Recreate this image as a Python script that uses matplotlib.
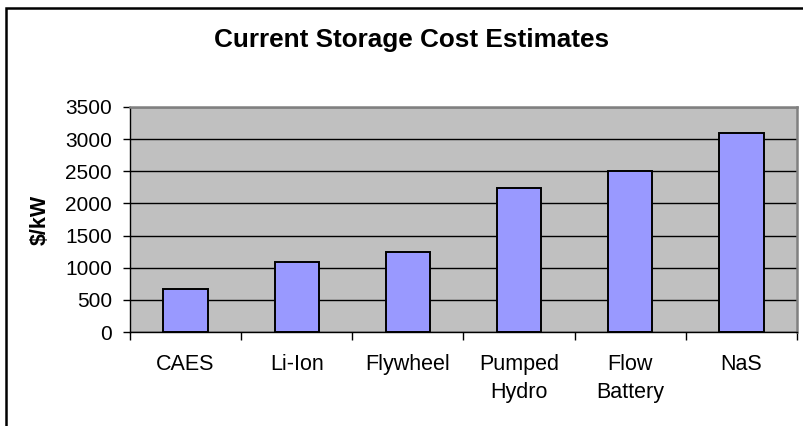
import numpy as np
import matplotlib
matplotlib.use("Agg")
import matplotlib.pyplot as plt
from matplotlib.patches import Rectangle

categories = ["CAES", "Li-Ion", "Flywheel", "Pumped\nHydro", "Flow\nBattery", "NaS"]
cost_per_kw = [675, 1090, 1250, 2240, 2500, 3100]
yticks = [0, 500, 1000, 1500, 2000, 2500, 3000, 3500]

W, H, DPI = 804, 426, 100
plt.rcParams['font.family'] = ['Liberation Sans', 'DejaVu Sans']

fig = plt.figure(figsize=(W / DPI, H / DPI), dpi=DPI)
fig.patch.set_facecolor("white")

# outer chart frame (right/bottom edges fall outside the picture)
fig.patches.append(Rectangle((6.5 / W, -0.05), 1.1, 1 - 7.5 / H + 0.05,
                             transform=fig.transFigure, fill=False,
                             edgecolor="black", linewidth=1.8))

left, right = 130 / W, 797 / W
bottom, top = 1 - 332 / H, 1 - 107 / H
ax = fig.add_axes([left, bottom, right - left, top - bottom])
ax.set_facecolor("#C0C0C0")

x = np.arange(len(categories))
ax.set_axisbelow(True)
ax.yaxis.grid(True, color="black", linewidth=1.0)
ax.bar(x, cost_per_kw, width=0.4, color="#9999FF", edgecolor="black",
       linewidth=1.4, zorder=3)

ax.set_xlim(-0.5, len(categories) - 0.5)
ax.set_ylim(0, 3500)
ax.set_yticks(yticks)
ax.set_yticklabels([str(v) for v in yticks], fontsize=15)

# category boundaries carry the ticks, labels sit in the middle
ax.set_xticks(np.arange(len(categories) + 1) - 0.5)
ax.set_xticklabels([])
ax.set_xticks(x, minor=True)
ax.set_xticklabels(categories, minor=True, fontsize=15.5, linespacing=1.45,
                   va="top")
ax.tick_params(axis="x", which="minor", length=0, pad=16)
ax.tick_params(axis="x", which="major", length=6, width=1.0, direction="out")
ax.tick_params(axis="y", length=5, width=1.0, direction="out", pad=8)

for side in ("left", "bottom"):
    ax.spines[side].set_color("black")
    ax.spines[side].set_linewidth(1.0)
for side in ("top", "right"):
    ax.spines[side].set_color("#808080")
    ax.spines[side].set_linewidth(1.8)

ax.set_ylabel("$/kW", fontsize=15.5, fontweight="bold", labelpad=10)
fig.text(412 / W, 1 - 40 / H, "Current Storage Cost Estimates",
         ha="center", va="center", fontsize=18.8, fontweight="bold")

fig.savefig("out.png", dpi=DPI)
